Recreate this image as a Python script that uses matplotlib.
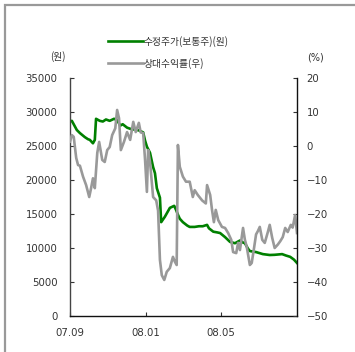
import matplotlib
matplotlib.use("Agg")
import matplotlib.pyplot as plt
import pandas as pd
from matplotlib.patches import Rectangle

plt.rcParams['font.family'] = ['Noto Sans CJK KR', 'DejaVu Sans']

# ---- data ----
base_date = "2007-09-01"
price_days = [0, 3, 11, 16, 24, 29, 32, 37, 40, 42, 48, 53, 58, 64, 71, 76, 81, 85, 92, 98,
              105, 111, 118, 121, 124, 129, 134, 137, 140, 145, 147, 150, 153, 161, 168, 171,
              174, 177, 182, 189, 193, 201, 208, 214, 221, 224, 231, 237, 242, 250, 258, 266,
              274, 279, 282, 287, 290, 300, 311, 322, 330, 342, 348, 355, 361, 366]
price_vals = [28600, 28700, 27350, 26900, 26300, 26000, 25900, 25400, 25900, 29000, 28700,
              28600, 28900, 28700, 29000, 28800, 28000, 28200, 27700, 27500, 27400, 27300,
              27000, 25800, 24900, 24000, 21900, 21000, 18800, 17400, 13800, 14200, 14600,
              15900, 16200, 15600, 14900, 14300, 13800, 13300, 13100, 13100, 13200, 13200,
              13400, 12900, 12400, 12300, 12200, 11600, 10900, 10700, 11100, 10800, 10700,
              9900, 9550, 9400, 9100, 8970, 9000, 9100, 8900, 8700, 8300, 7800]

rel_days = [0, 3, 6, 10, 13, 16, 21, 26, 31, 34, 37, 40, 44, 47, 52, 56, 60, 64, 68, 73, 76,
            79, 82, 87, 92, 97, 102, 106, 111, 114, 118, 121, 124, 126, 129, 134, 139, 142,
            145, 148, 152, 156, 161, 166, 169, 172, 174, 177, 182, 187, 193, 198, 201, 206,
            213, 219, 221, 226, 229, 232, 235, 239, 245, 250, 255, 260, 263, 268, 271, 274,
            279, 282, 285, 290, 293, 297, 300, 303, 306, 310, 314, 319, 322, 326, 330, 335,
            339, 343, 347, 351, 356, 359, 363, 366]
rel_vals = [1.3, 3.2, 2.7, -3.5, -5.6, -5.8, -9, -11.5, -15, -12.4, -9.5, -12.4, -2, 1.2, -4.1,
            -4.7, -1.2, -0.3, 3.2, 5.2, 10.6, 8.2, -1.2, 1.2, 4.1, 1.8, 7.1, 4.1, 6.8, 4.0, 3.8,
            -4, -13.5, -1.2, -4.7, -15, -16, -19, -33.5, -38, -39.4, -37, -35.9, -32.6, -34,
            -35, 0.3, -6.1, -9, -10.5, -10.5, -15, -13, -14.4, -16, -16.9, -11.5, -14.4, -18.8,
            -22.4, -18.8, -21.8, -23.8, -24.1, -25.6, -27.6, -31.2, -31.5, -28.5, -30.6, -24.1,
            -27.6, -29.7, -35, -34.4, -29.7, -26, -25, -23.8, -27.6, -28.5, -25.3, -23.2, -27,
            -30, -29, -28, -26.8, -24.1, -25.3, -23.2, -24, -20.3, -25.6]

xtick_dates = ["2007-09-01", "2008-01-01", "2008-05-01"]
xtick_labels = ["07.09", "08.01", "08.05"]
x_end = "2008-09-01"
left_ticks = [0, 5000, 10000, 15000, 20000, 25000, 30000, 35000]
right_ticks = [-50, -40, -30, -20, -10, 0, 10, 20]
series_names = ["수정주가(보통주)(원)", "상대수익률(우)"]

b = pd.Timestamp(base_date)
px = b + pd.to_timedelta(price_days, unit="D")
rx = b + pd.to_timedelta(rel_days, unit="D")

fig = plt.figure(figsize=(3.55, 3.52), dpi=100)
ax = fig.add_axes([70/355, 1-316/352, 227/355, 238/352])
ax2 = ax.twinx()

tc = "#333333"
l1, = ax.plot(px, price_vals, color="#008000", lw=1.9, solid_joinstyle="round")
l2, = ax2.plot(rx, rel_vals, color="#999999", lw=1.9, solid_joinstyle="round")

ax.set_xlim(b, pd.Timestamp(x_end))
ax.set_ylim(0, 35000)
ax2.set_ylim(-50, 20)
ax.set_yticks(left_ticks)
ax2.set_yticks(right_ticks)
ax.set_xticks(pd.to_datetime(xtick_dates))
ax.set_xticklabels(xtick_labels)

for s in ["top", "right"]:
    ax.spines[s].set_visible(False)
for s in ["top", "left", "bottom"]:
    ax2.spines[s].set_visible(False)
ax.spines["left"].set_color("#444444")
ax.spines["bottom"].set_color("#111111")
ax2.spines["right"].set_color("#111111")
for sp in [ax.spines["left"], ax.spines["bottom"], ax2.spines["right"]]:
    sp.set_linewidth(1.0)

ax.tick_params(axis="y", direction="in", length=3, pad=9, labelsize=7.3, colors=tc)
ax.tick_params(axis="x", direction="in", length=3, pad=9, labelsize=7.3, colors=tc)
ax2.tick_params(axis="y", direction="in", length=3, pad=7, labelsize=7.3, colors=tc)
for lab in ax.get_yticklabels() + ax.get_xticklabels() + ax2.get_yticklabels():
    lab.set_family("DejaVu Sans")

fig.text(58/355, 1-57/352, "(원)", ha="center", va="center", fontsize=7, color=tc)
fig.text(315/355, 1-57/352, "(%)", ha="center", va="center", fontsize=7, color=tc,
         family="DejaVu Sans")

fig.legend([l1, l2], series_names, loc="upper left", bbox_to_anchor=(108/355, 1-36/352),
           frameon=False, handlelength=3.6, handletextpad=0.1, borderpad=0,
           borderaxespad=0, labelspacing=1.1, fontsize=7, labelcolor=tc)

fig.add_artist(Rectangle((4.5/355, -0.1), 1.2, 1.1 - 5.5/352, transform=fig.transFigure,
                         fill=False, edgecolor="#999999", lw=1.6))

fig.savefig("out.png", dpi=100)
